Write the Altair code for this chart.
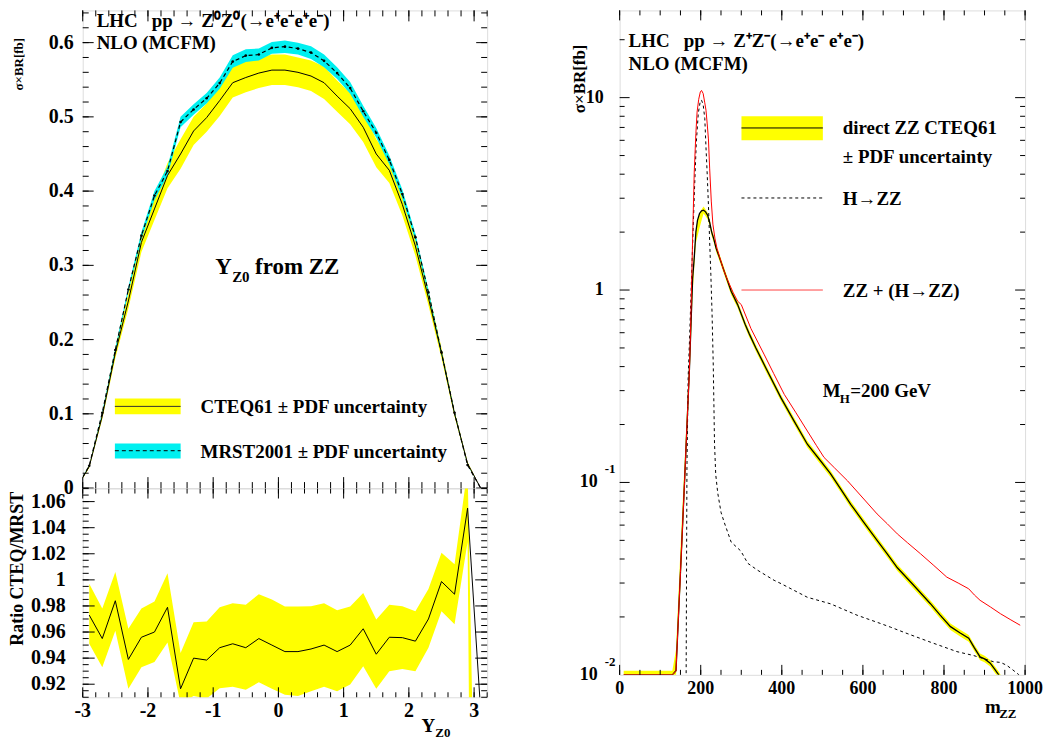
import altair as alt
import pandas as pd

FONT = "Liberation Serif"
YELLOW = "#FFFF00"
CYAN = "#00F0F0"

# ---------------- left panel: rapidity of the Z0 ----------------
rap = [-3.0, -2.9, -2.7, -2.5, -2.3, -2.1, -1.9, -1.7, -1.5, -1.3, -1.1, -0.9, -0.7, -0.5, -0.3, -0.1,
       0.1, 0.3, 0.5, 0.7, 0.9, 1.1, 1.3, 1.5, 1.7, 1.9, 2.1, 2.3, 2.5, 2.7, 2.9, 3.1]
cteq = [0.014, 0.029, 0.097, 0.182, 0.252, 0.331, 0.376, 0.421, 0.450, 0.481, 0.499, 0.522, 0.546, 0.553, 0.559, 0.563,
        0.563, 0.560, 0.555, 0.546, 0.528, 0.511, 0.486, 0.450, 0.428, 0.382, 0.326, 0.256, 0.182, 0.100, 0.033, 0.0]
cteq_lo = [0.013, 0.027, 0.093, 0.175, 0.242, 0.318, 0.361, 0.404, 0.430, 0.462, 0.480, 0.501, 0.526, 0.533, 0.539, 0.543,
           0.543, 0.540, 0.535, 0.524, 0.507, 0.490, 0.466, 0.432, 0.411, 0.367, 0.313, 0.246, 0.175, 0.096, 0.031, 0.0]
cteq_hi = [0.015, 0.031, 0.101, 0.189, 0.262, 0.344, 0.391, 0.438, 0.470, 0.500, 0.518, 0.543, 0.568, 0.575, 0.580, 0.584,
           0.584, 0.580, 0.576, 0.568, 0.549, 0.532, 0.506, 0.470, 0.445, 0.397, 0.339, 0.266, 0.189, 0.104, 0.035, 0.0]
mrst = [0.015, 0.030, 0.1015, 0.186, 0.2675, 0.340, 0.394, 0.427, 0.493, 0.510, 0.525, 0.5455, 0.5745, 0.5825, 0.584, 0.593,
        0.5946, 0.592, 0.5866, 0.5755, 0.559, 0.5388, 0.5076, 0.4786, 0.442, 0.396, 0.338, 0.2635, 0.1827, 0.1015, 0.031, 0.0]
mrst_lo = [0.0145, 0.0295, 0.100, 0.183, 0.264, 0.335, 0.388, 0.421, 0.486, 0.503, 0.518, 0.538, 0.566, 0.574, 0.576, 0.585,
           0.586, 0.584, 0.578, 0.567, 0.551, 0.531, 0.500, 0.472, 0.436, 0.390, 0.333, 0.260, 0.180, 0.100, 0.0305, 0.0]
mrst_hi = [0.0155, 0.0305, 0.103, 0.189, 0.271, 0.345, 0.400, 0.433, 0.500, 0.517, 0.532, 0.553, 0.583, 0.591, 0.592, 0.601,
           0.603, 0.600, 0.595, 0.584, 0.567, 0.547, 0.515, 0.485, 0.448, 0.402, 0.343, 0.267, 0.185, 0.103, 0.0315, 0.0]

# ratio CTEQ / MRST
rap_ratio = [-2.9, -2.7, -2.5, -2.3, -2.1, -1.9, -1.7, -1.5, -1.3, -1.1, -0.9, -0.7, -0.5, -0.3, -0.1,
             0.1, 0.3, 0.5, 0.7, 0.9, 1.1, 1.3, 1.5, 1.7, 1.9, 2.1, 2.3, 2.5, 2.7, 2.9, 3.1]
ratio = [0.973, 0.955, 0.984, 0.939, 0.956, 0.960, 0.979, 0.9165, 0.940, 0.9385, 0.948, 0.951, 0.948, 0.955, 0.950,
         0.945, 0.945, 0.947, 0.950, 0.945, 0.950, 0.9625, 0.943, 0.956, 0.9557, 0.953, 0.970, 0.9987, 0.989, 1.055, 0.90]
ratio_lo = [0.951, 0.933, 0.961, 0.9165, 0.933, 0.937, 0.952, 0.905, 0.911, 0.909, 0.917, 0.918, 0.9157, 0.9215, 0.9165,
            0.912, 0.911, 0.9147, 0.918, 0.9147, 0.9197, 0.9337, 0.9165, 0.930, 0.9316, 0.930, 0.948, 0.976, 0.966, 1.029, -0.17]
ratio_hi = [0.997, 0.978, 1.006, 0.9625, 0.978, 0.9835, 1.005, 0.944, 0.9676, 0.968, 0.979, 0.982, 0.981, 0.989, 0.985,
            0.9795, 0.9795, 0.9797, 0.982, 0.9767, 0.9795, 0.990, 0.9696, 0.981, 0.9797, 0.976, 0.993, 1.0208, 1.012, 1.085, 0.58]

# ---------------- right panel: m_ZZ ----------------
m_direct = [10, 130, 139, 150, 160, 168, 172, 176, 180, 184, 188, 192, 197, 202, 207, 212, 217, 222, 227, 232,
            238, 245, 258, 275, 291, 310, 320, 336, 360, 398, 430, 463, 490, 520, 545, 570, 600, 635, 660, 685,
            720, 766, 790, 816, 840, 861, 875, 889, 900, 914, 925, 935, 945]
direct = [0.01, 0.01, 0.0105, 0.034, 0.10, 0.245, 0.38, 0.66, 1.15, 1.47, 2.0, 2.3, 2.5, 2.58, 2.6, 2.55, 2.45, 2.25, 2.0, 1.85,
          1.65, 1.5, 1.25, 0.985, 0.84, 0.66, 0.59, 0.50, 0.396, 0.275, 0.209, 0.158, 0.134, 0.111, 0.0925, 0.077, 0.063, 0.050, 0.0425, 0.036,
          0.030, 0.0235, 0.0205, 0.0178, 0.0165, 0.0155, 0.0138, 0.0124, 0.0121, 0.0115, 0.0107, 0.0100, 0.0092]
direct_lo = [0.0095, 0.0095, 0.0098, 0.029, 0.085, 0.21, 0.33, 0.55, 0.95, 1.3, 1.75, 1.9, 2.1, 2.3, 2.5, 2.42, 2.33, 2.15, 1.91, 1.77,
             1.58, 1.44, 1.20, 0.945, 0.806, 0.634, 0.566, 0.480, 0.380, 0.264, 0.2005, 0.1517, 0.1286, 0.1066, 0.0888, 0.0739, 0.0605, 0.048, 0.0408, 0.0346,
             0.0288, 0.02256, 0.01968, 0.01709, 0.01584, 0.01488, 0.01325, 0.0119, 0.01162, 0.01104, 0.01027, 0.0096, 0.00883]
direct_hi = [0.0105, 0.0105, 0.0135, 0.045, 0.125, 0.29, 0.44, 0.72, 1.25, 1.6, 2.05, 2.3, 2.5, 2.62, 2.72, 2.62, 2.52, 2.33, 2.07, 1.92,
             1.72, 1.56, 1.30, 1.025, 0.874, 0.686, 0.614, 0.520, 0.412, 0.286, 0.2175, 0.1643, 0.1394, 0.1154, 0.0962, 0.0801, 0.0655, 0.052, 0.0442, 0.0374,
             0.0312, 0.02444, 0.02132, 0.01851, 0.01716, 0.01612, 0.01435, 0.0129, 0.01258, 0.01196, 0.01113, 0.0104, 0.00957]

m_higgs = [164, 166, 169, 173, 177, 181, 185, 189, 194, 199, 202, 206, 210, 213, 216, 219, 222, 225, 228, 231,
           234, 237, 242, 250, 258, 275, 299, 316, 340, 381, 398, 463, 520, 586, 643, 668, 709, 766, 832, 873,
           900, 922, 940, 955, 970, 985, 995]
higgs = [0.0095, 0.12, 0.35, 0.6, 1.1, 2.0, 3.5, 5.8, 8.3, 9.6, 9.7, 9.2, 7.8, 5.5, 4.0, 2.77, 1.8, 1.2, 0.75, 0.4,
         0.16, 0.11, 0.088, 0.07, 0.062, 0.049, 0.044, 0.038, 0.035, 0.031, 0.0298, 0.0253, 0.0234, 0.0204, 0.0185, 0.0177, 0.0164, 0.0148, 0.0132, 0.0126,
         0.0121, 0.0117, 0.0116, 0.0112, 0.0106, 0.0100, 0.0095]

m_total = [10, 130, 139, 150, 160, 168, 172, 175, 180, 184, 188, 191, 195, 199, 202, 206, 210, 213, 216, 219,
           222, 226, 230, 235, 240, 246, 256, 266, 280, 291, 300, 324, 357, 380, 406, 435, 463, 485, 504, 530,
           562, 600, 635, 660, 685, 710, 742, 775, 807, 835, 861, 875, 889, 915, 939, 965, 988]
total = [0.01, 0.01, 0.0105, 0.034, 0.10, 0.245, 0.38, 0.62, 1.86, 4.1, 6.5, 8.4, 9.8, 10.7, 10.9, 10.5, 9.4, 8.6, 7.3, 6.1,
         4.3, 2.9, 2.2, 1.86, 1.65, 1.50, 1.28, 1.13, 0.97, 0.875, 0.84, 0.63, 0.46, 0.368, 0.287, 0.23, 0.185, 0.156, 0.135, 0.119,
         0.102, 0.083, 0.0686, 0.061, 0.054, 0.0486, 0.0426, 0.037, 0.0322, 0.030, 0.028, 0.026, 0.0244, 0.0225, 0.0208, 0.0193, 0.0181]

# axis labels / tick values
top_y_vals = [0, 0.1, 0.2, 0.3, 0.4, 0.5, 0.6]
top_y_text = ["0", "0.1", "0.2", "0.3", "0.4", "0.5", "0.6"]
rat_y_vals = [0.92, 0.94, 0.96, 0.98, 1.0, 1.02, 1.04, 1.06]
rat_y_text = ["0.92", "0.94", "0.96", "0.98", "1", "1.02", "1.04", "1.06"]
rap_vals = [-3, -2, -1, 0, 1, 2, 3]
rap_text = ["-3", "-2", "-1", "0", "1", "2", "3"]
mzz_vals = [0, 200, 400, 600, 800, 1000]
mzz_text = ["0", "200", "400", "600", "800", "1000"]
log_plain_vals = [10, 1]
log_plain_text = ["10", "1"]
log_pow_vals = [0.1, 0.01]
log_pow_sup = ["-1", "-2"]

top_y_minor = [round(0.02 * i, 2) for i in range(33)]
rap_minor = [round(-3.0 + 0.2 * i, 1) for i in range(32)]
rat_y_minor = [round(0.91 + 0.005 * i, 3) for i in range(33)]
mzz_minor = list(range(0, 1001, 50))
log_major = [0.1, 1, 10]
log_minor = [k * 10.0 ** e for e in (-2, -1, 0, 1) for k in range(2, 10) if k * 10.0 ** e < 28]

# ---------------- geometry ----------------
WL, HT, HR = 406, 479.5, 209.5
WR, HRT = 407, 667

xs_l = alt.Scale(domain=[-3.0, 3.2], nice=False, zero=False)
ys_top = alt.Scale(domain=[0.0, 0.6434], nice=False, zero=False)
ys_rat = alt.Scale(domain=[0.91, 1.07], nice=False, zero=False)
xs_r = alt.Scale(domain=[0, 1000], nice=False, zero=False)
ys_r = alt.Scale(type="log", domain=[0.01, 28.4], nice=False)

one = pd.DataFrame({"a": [0]})


def txt(s, x, y, size=19, align="left", baseline="alphabetic", angle=0, color="black"):
    return alt.Chart(one).mark_text(text=s, font=FONT, fontWeight="bold", fontSize=size, align=align,
                                    baseline=baseline, angle=angle, color=color).encode(
        x=alt.value(x), y=alt.value(y))


def box(x1, x2, y1, y2, color):
    return alt.Chart(one).mark_rect(color=color, opacity=1).encode(
        x=alt.value(x1), x2=alt.value(x2), y=alt.value(y1), y2=alt.value(y2))


def hline(x1, x2, y, color="black", dash=None, width=1):
    kw = dict(color=color, strokeWidth=width)
    if dash:
        kw["strokeDash"] = dash
    return alt.Chart(one).mark_rule(**kw).encode(x=alt.value(x1), x2=alt.value(x2), y=alt.value(y))


def ticks_y(vals, scale, length, width):
    d = pd.DataFrame({"t": vals})
    enc = alt.Y("t:Q", scale=scale, axis=None)
    l = alt.Chart(d).mark_rule(color="black", strokeWidth=1).encode(y=enc, x=alt.value(0), x2=alt.value(length))
    r = alt.Chart(d).mark_rule(color="black", strokeWidth=1).encode(y=enc, x=alt.value(width), x2=alt.value(width - length))
    return [l, r]


def ticks_x(vals, scale, length, height):
    d = pd.DataFrame({"t": vals})
    enc = alt.X("t:Q", scale=scale, axis=None)
    b = alt.Chart(d).mark_rule(color="black", strokeWidth=1).encode(x=enc, y=alt.value(height), y2=alt.value(height - length))
    t = alt.Chart(d).mark_rule(color="black", strokeWidth=1).encode(x=enc, y=alt.value(0), y2=alt.value(length))
    return [b, t]


def ylabels(vals, texts, scale, xpos, size):
    d = pd.DataFrame({"v": vals, "s": texts})
    return alt.Chart(d).mark_text(font=FONT, fontWeight="bold", fontSize=size, align="right", baseline="middle").encode(
        y=alt.Y("v:Q", scale=scale, axis=None), x=alt.value(xpos), text="s:N")


def xlabels(vals, texts, scale, ypos, size):
    d = pd.DataFrame({"v": vals, "s": texts})
    return alt.Chart(d).mark_text(font=FONT, fontWeight="bold", fontSize=size, align="center", baseline="middle").encode(
        x=alt.X("v:Q", scale=scale, axis=None), y=alt.value(ypos), text="s:N")


# ---------------- top-left panel ----------------
df_top = pd.DataFrame({"Y": rap, "c": cteq, "clo": cteq_lo, "chi": cteq_hi,
                       "m": mrst, "mlo": mrst_lo, "mhi": mrst_hi})
df_dots = df_top[(df_top.Y > -2.95) & (df_top.Y < 3.0)]

xT = alt.X("Y:Q", scale=xs_l, axis=None)
band_c = alt.Chart(df_top).mark_area(color=YELLOW, opacity=1, clip=True).encode(
    x=xT, y=alt.Y("clo:Q", scale=ys_top, axis=None), y2="chi:Q")
band_m = alt.Chart(df_top).mark_area(color=CYAN, opacity=1, clip=True).encode(
    x=xT, y=alt.Y("mlo:Q", scale=ys_top, axis=None), y2="mhi:Q")
line_c = alt.Chart(df_top).mark_line(color="black", strokeWidth=1, clip=True).encode(
    x=xT, y=alt.Y("c:Q", scale=ys_top, axis=None))
line_m = alt.Chart(df_top).mark_line(color="black", strokeWidth=1.2, strokeDash=[4, 3], clip=True).encode(
    x=xT, y=alt.Y("m:Q", scale=ys_top, axis=None))
dots_m = alt.Chart(df_dots).mark_point(color="black", filled=True, size=7, opacity=1).encode(
    x=xT, y=alt.Y("m:Q", scale=ys_top, axis=None))

top_layers = [band_c, band_m, line_c, line_m, dots_m, ylabels(top_y_vals, top_y_text, ys_top, -9, 20)]
top_layers += ticks_y(top_y_vals, ys_top, 11, WL) + ticks_y(top_y_minor, ys_top, 6, WL)
top_layers += ticks_x(rap_vals, xs_l, 11, HT) + ticks_x(rap_minor, xs_l, 6, HT)
NB = "\u00a0"
top_layers += [
    txt("LHC" + NB * 3 + "pp \u2192 Z\u2070Z\u2070(\u2192e\u207ae\u207be\u207ae\u207b)", 14, 17, 19),
    txt("NLO (MCFM)", 14, 39, 19),
    txt("Y", 133, 265, 23),
    txt("Z0", 150, 273, 15),
    txt("from ZZ", 173, 265, 23),
    box(32.3, 98.3, 389.7, 405.3, YELLOW),
    hline(32.3, 98.3, 397.5, "#333333"),
    txt("CTEQ61 \u00b1 PDF uncertainty", 118.3, 404.3, 19),
    box(32.3, 98.3, 434.7, 449.7, CYAN),
    hline(32.3, 98.3, 442, "black", [4, 3]),
    txt("MRST2001 \u00b1 PDF uncertainty", 118.3, 449.3, 19),
    txt("\u03c3\u00d7BR[fb]", -57, 54, 13, align="center", baseline="bottom", angle=270),
]
top = alt.layer(*top_layers).properties(width=WL, height=HT)

# ---------------- ratio panel ----------------
df_rat = pd.DataFrame({"Y": rap_ratio, "r": ratio, "lo": ratio_lo, "hi": ratio_hi})
band_r = alt.Chart(df_rat).mark_area(color=YELLOW, opacity=1, clip=True).encode(
    x=alt.X("Y:Q", scale=xs_l, axis=None), y=alt.Y("lo:Q", scale=ys_rat, axis=None), y2="hi:Q")
line_r = alt.Chart(df_rat).mark_line(color="black", strokeWidth=1, clip=True).encode(
    x=alt.X("Y:Q", scale=xs_l, axis=None), y=alt.Y("r:Q", scale=ys_rat, axis=None))
rat_layers = [band_r, line_r,
              ylabels(rat_y_vals, rat_y_text, ys_rat, -17, 20),
              xlabels(rap_vals, rap_text, xs_l, HR + 14, 20)]
rat_layers += ticks_y(rat_y_vals, ys_rat, 12, WL) + ticks_y(rat_y_minor, ys_rat, 6, WL)
rat_layers += ticks_x(rap_vals, xs_l, 10, HR) + ticks_x(rap_minor, xs_l, 5, HR)
rat_layers += [
    txt("Ratio CTEQ/MRST", -56, 80.5, 18, align="center", baseline="bottom", angle=270),
    txt("Y", 340, 244, 19),
    txt("Z0", 354, 249, 13),
]
rat = alt.layer(*rat_layers).properties(width=WL, height=HR)

left_col = alt.vconcat(top, rat, spacing=0, bounds="flush")

# ---------------- right panel ----------------
df_dir = pd.DataFrame({"m": m_direct, "v": direct, "lo": direct_lo, "hi": direct_hi})
df_h = pd.DataFrame({"m": m_higgs, "v": higgs})
df_tot = pd.DataFrame({"m": m_total, "v": total})

xR = alt.X("m:Q", scale=xs_r, axis=None)
band_d = alt.Chart(df_dir).mark_area(color=YELLOW, opacity=1, clip=True).encode(
    x=xR, y=alt.Y("lo:Q", scale=ys_r, axis=None), y2="hi:Q")
line_d = alt.Chart(df_dir).mark_line(color="black", strokeWidth=1.3, clip=True).encode(
    x=xR, y=alt.Y("v:Q", scale=ys_r, axis=None))
line_h = alt.Chart(df_h).mark_line(color="black", strokeWidth=1, strokeDash=[3, 3], clip=True).encode(
    x=xR, y=alt.Y("v:Q", scale=ys_r, axis=None))
line_t = alt.Chart(df_tot).mark_line(color="#FF0000", strokeWidth=1, clip=True).encode(
    x=xR, y=alt.Y("v:Q", scale=ys_r, axis=None))

df_lw = pd.DataFrame({"v": log_pow_vals, "s": log_pow_sup})
lab_ten = alt.Chart(df_lw).mark_text(text="10", font=FONT, fontWeight="bold", fontSize=18, align="right", baseline="middle").encode(
    y=alt.Y("v:Q", scale=ys_r, axis=None), x=alt.value(-22))
lab_sup = alt.Chart(df_lw).mark_text(font=FONT, fontWeight="bold", fontSize=13, align="left", baseline="middle", dy=-13).encode(
    y=alt.Y("v:Q", scale=ys_r, axis=None), x=alt.value(-15), text="s:N")

r_layers = [band_d, line_d, line_h, line_t,
            ylabels(log_plain_vals, log_plain_text, ys_r, -16, 18), lab_ten, lab_sup,
            xlabels(mzz_vals, mzz_text, xs_r, HRT + 14, 18)]
r_layers += ticks_y(log_major, ys_r, 10, WR) + ticks_y(log_minor, ys_r, 5, WR)
r_layers += ticks_x(mzz_vals, xs_r, 10, HRT) + ticks_x(mzz_minor, xs_r, 5, HRT)
r_layers += [
    txt("LHC" + NB * 3 + "pp \u2192 Z\u207aZ\u207b(\u2192e\u207ae\u207b e\u207ae\u207b)", 9, 37, 19),
    txt("NLO (MCFM)", 9, 60.3, 19),
    box(122.3, 204, 106.3, 130.3, YELLOW),
    hline(122.3, 204, 118, "black"),
    txt("direct ZZ CTEQ61", 224, 124.3, 19),
    txt("\u00b1 PDF uncertainty", 224, 152.7, 19),
    hline(122.3, 204, 188.3, "black", [3, 3]),
    txt("H\u2192ZZ", 224, 195.3, 19),
    hline(122.3, 204, 280.7, "#FF4444"),
    txt("ZZ + (H\u2192ZZ)", 224, 288, 19),
    txt("M", 204, 388, 19),
    txt("H", 221, 394, 13),
    txt("=200 GeV", 231.6, 388, 19),
    txt("m", 366.7, 705, 19),
    txt("ZZ", 381, 710, 13),
    txt("\u03c3\u00d7BR[fb]", -31, 68.7, 17, align="center", baseline="bottom", angle=270),
]
right = alt.layer(*r_layers).properties(width=WR, height=HRT)

chart = alt.hconcat(left_col, right, spacing=82).properties(
    padding={"left": 0, "top": 0, "right": 0, "bottom": 0}
).configure_view(stroke="black", strokeWidth=2).configure(background="white")

chart.save("out.html", embed_options={"renderer": "svg", "actions": False})
